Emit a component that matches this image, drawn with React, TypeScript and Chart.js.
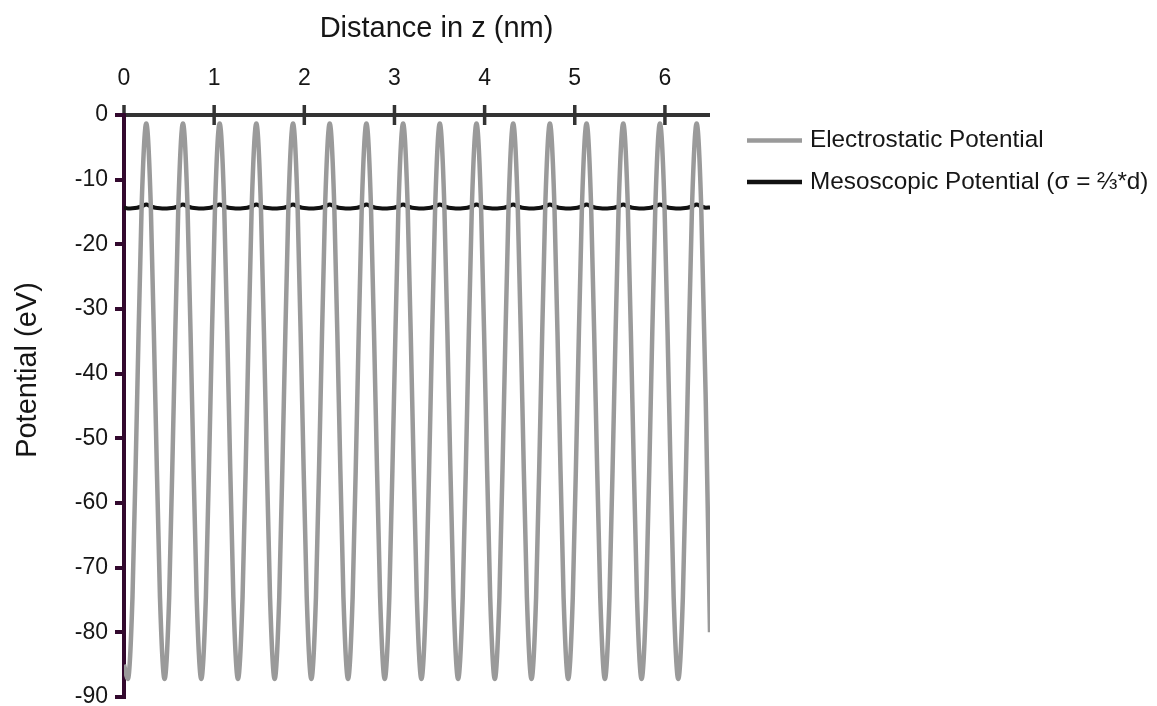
import React, { useEffect, useRef } from "react";
import { Chart, registerables } from "chart.js";

Chart.register(...registerables);

// Distance in z (nm) sample positions
const zPositions = [
  0,
  0.043, 0.094, 0.145, 0.196, 0.247, 0.297, 0.348, 0.399,
  0.45, 0.501, 0.552, 0.603, 0.654, 0.704, 0.755, 0.806,
  0.857, 0.908, 0.959, 1.01, 1.061, 1.111, 1.162, 1.213,
  1.264, 1.315, 1.366, 1.417, 1.468, 1.518, 1.569, 1.62,
  1.671, 1.722, 1.773, 1.824, 1.875, 1.925, 1.976, 2.027,
  2.078, 2.129, 2.18, 2.231, 2.282, 2.332, 2.383, 2.434,
  2.485, 2.536, 2.587, 2.638, 2.689, 2.739, 2.79, 2.841,
  2.892, 2.943, 2.994, 3.045, 3.096, 3.146, 3.197, 3.248,
  3.299, 3.35, 3.401, 3.452, 3.503, 3.553, 3.604, 3.655,
  3.706, 3.757, 3.808, 3.859, 3.91, 3.96, 4.011, 4.062,
  4.113, 4.164, 4.215, 4.266, 4.317, 4.367, 4.418, 4.469,
  4.52, 4.571, 4.622, 4.673, 4.724, 4.774, 4.825, 4.876,
  4.927, 4.978, 5.029, 5.08, 5.131, 5.181, 5.232, 5.283,
  5.334, 5.385, 5.436, 5.487, 5.538, 5.588, 5.639, 5.69,
  5.741, 5.792, 5.843, 5.894, 5.945, 5.995, 6.046, 6.097,
  6.148, 6.199, 6.25, 6.301, 6.352, 6.402, 6.453,
  6.5,
];

// Electrostatic potential (eV)
const electrostatic = [
  -85,
  -87.2, -74.6, -44.3, -13.9, -1.3, -13.9, -44.3, -74.6,
  -87.2, -74.6, -44.3, -13.9, -1.3, -13.9, -44.3, -74.6,
  -87.2, -74.6, -44.3, -13.9, -1.3, -13.9, -44.3, -74.6,
  -87.2, -74.6, -44.3, -13.9, -1.3, -13.9, -44.3, -74.6,
  -87.2, -74.6, -44.3, -13.9, -1.3, -13.9, -44.3, -74.6,
  -87.2, -74.6, -44.3, -13.9, -1.3, -13.9, -44.3, -74.6,
  -87.2, -74.6, -44.3, -13.9, -1.3, -13.9, -44.3, -74.6,
  -87.2, -74.6, -44.3, -13.9, -1.3, -13.9, -44.3, -74.6,
  -87.2, -74.6, -44.3, -13.9, -1.3, -13.9, -44.3, -74.6,
  -87.2, -74.6, -44.3, -13.9, -1.3, -13.9, -44.3, -74.6,
  -87.2, -74.6, -44.3, -13.9, -1.3, -13.9, -44.3, -74.6,
  -87.2, -74.6, -44.3, -13.9, -1.3, -13.9, -44.3, -74.6,
  -87.2, -74.6, -44.3, -13.9, -1.3, -13.9, -44.3, -74.6,
  -87.2, -74.6, -44.3, -13.9, -1.3, -13.9, -44.3, -74.6,
  -87.2, -74.6, -44.3, -13.9, -1.3, -13.9, -44.3, -74.6,
  -87.2, -74.6, -44.3, -13.9, -1.3, -13.9, -44.3,
  -80,
];

// Mesoscopic potential (eV)
const mesoscopic = [
  -14.3,
  -14.45, -14.42, -14.33, -14.15, -13.85, -14.15, -14.33, -14.42,
  -14.45, -14.42, -14.33, -14.15, -13.85, -14.15, -14.33, -14.42,
  -14.45, -14.42, -14.33, -14.15, -13.85, -14.15, -14.33, -14.42,
  -14.45, -14.42, -14.33, -14.15, -13.85, -14.15, -14.33, -14.42,
  -14.45, -14.42, -14.33, -14.15, -13.85, -14.15, -14.33, -14.42,
  -14.45, -14.42, -14.33, -14.15, -13.85, -14.15, -14.33, -14.42,
  -14.45, -14.42, -14.33, -14.15, -13.85, -14.15, -14.33, -14.42,
  -14.45, -14.42, -14.33, -14.15, -13.85, -14.15, -14.33, -14.42,
  -14.45, -14.42, -14.33, -14.15, -13.85, -14.15, -14.33, -14.42,
  -14.45, -14.42, -14.33, -14.15, -13.85, -14.15, -14.33, -14.42,
  -14.45, -14.42, -14.33, -14.15, -13.85, -14.15, -14.33, -14.42,
  -14.45, -14.42, -14.33, -14.15, -13.85, -14.15, -14.33, -14.42,
  -14.45, -14.42, -14.33, -14.15, -13.85, -14.15, -14.33, -14.42,
  -14.45, -14.42, -14.33, -14.15, -13.85, -14.15, -14.33, -14.42,
  -14.45, -14.42, -14.33, -14.15, -13.85, -14.15, -14.33, -14.42,
  -14.45, -14.42, -14.33, -14.15, -13.85, -14.15, -14.33,
  -14.3,
];

const xTickValues = [0, 1, 2, 3, 4, 5, 6];
const yTickValues = [0, -10, -20, -30, -40, -50, -60, -70, -80, -90];
const seriesLabels = ["Electrostatic Potential", "Mesoscopic Potential (σ = ⅔*d)"];
const xTitle = "Distance in z (nm)";
const yTitle = "Potential (eV)";

const FONT = "'Liberation Sans', Arial, Helvetica, sans-serif";
const TEXT = "#161616";
const GRAY = "#9a9a9a";
const BLACK = "#111111";
const X_AXIS = "#333333";
const Y_AXIS = "#33092e";

export default function App() {
  const ref = useRef<HTMLCanvasElement | null>(null);

  useEffect(() => {
    const canvas = ref.current;
    if (!canvas) return;

    const decor = {
      id: "decor",
      beforeDraw(chart: any) {
        const { ctx, chartArea } = chart;
        const xs = chart.scales.x;
        ctx.save();
        ctx.fillStyle = "#ffffff";
        ctx.fillRect(0, 0, chart.width, chart.height);
        // top x axis line up to the end of the data
        const xEnd = xs.getPixelForValue(zPositions[zPositions.length - 1]);
        const xStart = xs.getPixelForValue(0);
        ctx.strokeStyle = X_AXIS;
        ctx.lineWidth = 4;
        ctx.lineCap = "butt";
        ctx.beginPath();
        ctx.moveTo(xStart, chartArea.top);
        ctx.lineTo(xEnd, chartArea.top);
        ctx.stroke();
        // crossing tick marks
        ctx.lineWidth = 3.5;
        for (const v of xTickValues) {
          const px = xs.getPixelForValue(v);
          ctx.beginPath();
          ctx.moveTo(px, chartArea.top - 10);
          ctx.lineTo(px, chartArea.top + 10);
          ctx.stroke();
        }
        ctx.restore();
      },
      afterDraw(chart: any) {
        const { ctx } = chart;
        ctx.save();
        // axis titles
        ctx.fillStyle = TEXT;
        ctx.font = `29px ${FONT}`;
        ctx.textAlign = "center";
        ctx.textBaseline = "middle";
        ctx.fillText(xTitle, 436.5, 29);
        ctx.save();
        ctx.translate(27.5, 370);
        ctx.rotate(-Math.PI / 2);
        ctx.fillText(yTitle, 0, 0);
        ctx.restore();
        // legend
        const legendLeft = 747;
        const sampleW = 55;
        const legendTop = 140.5;
        const legendGap = 41.5;
        chart.data.datasets.forEach((ds: any, i: number) => {
          const y = legendTop + i * legendGap;
          ctx.strokeStyle = ds.borderColor;
          ctx.lineWidth = 4.5;
          ctx.lineCap = "butt";
          ctx.beginPath();
          ctx.moveTo(legendLeft, y);
          ctx.lineTo(legendLeft + sampleW, y);
          ctx.stroke();
          ctx.fillStyle = TEXT;
          ctx.font = `24.3px ${FONT}`;
          ctx.textAlign = "left";
          ctx.textBaseline = "middle";
          ctx.fillText(ds.label, legendLeft + sampleW + 8, y);
        });
        ctx.restore();
      },
    };

    const chart = new Chart(canvas, {
      type: "line",
      data: {
        datasets: [
          {
            label: seriesLabels[0],
            data: zPositions.map((x, i) => ({ x, y: electrostatic[i] })),
            borderColor: GRAY,
            backgroundColor: GRAY,
            borderWidth: 4.5,
            pointRadius: 0,
            fill: false,
            cubicInterpolationMode: "monotone",
          },
          {
            label: seriesLabels[1],
            data: zPositions.map((x, i) => ({ x, y: mesoscopic[i] })),
            borderColor: BLACK,
            backgroundColor: BLACK,
            borderWidth: 4,
            pointRadius: 0,
            fill: false,
            cubicInterpolationMode: "monotone",
          },
        ],
      },
      options: {
        responsive: false,
        animation: false,
        events: [],
        layout: { padding: { left: 0, top: 0, right: 1157 - 710, bottom: 9 } },
        plugins: {
          legend: { display: false },
          tooltip: { enabled: false },
          title: { display: false },
        },
        scales: {
          x: {
            type: "linear",
            position: "top",
            min: 0,
            max: 6.5,
            afterBuildTicks: (s: any) => {
              s.ticks = xTickValues.map((v) => ({ value: v }));
            },
            afterFit: (s: any) => {
              s.height = 115;
              s.paddingLeft = 0;
              s.paddingRight = 0;
            },
            grid: { display: false, drawTicks: false, tickLength: 0 },
            border: { display: false },
            ticks: {
              padding: 23,
              color: TEXT,
              font: { family: FONT, size: 23 },
              maxRotation: 0,
              autoSkip: false,
            },
            title: { display: false },
          },
          y: {
            type: "linear",
            position: "left",
            min: -90,
            max: 0,
            afterBuildTicks: (s: any) => {
              s.ticks = yTickValues.map((v) => ({ value: v }));
            },
            afterFit: (s: any) => {
              s.width = 124;
              s.paddingTop = 0;
              s.paddingBottom = 0;
            },
            grid: {
              drawOnChartArea: false,
              drawTicks: true,
              tickLength: 9,
              color: Y_AXIS,
              lineWidth: 4,
            },
            border: { display: true, color: Y_AXIS, width: 4 },
            ticks: {
              padding: 7,
              color: TEXT,
              font: { family: FONT, size: 23 },
              autoSkip: false,
            },
            title: { display: false },
          },
        },
      },
      plugins: [decor],
    } as any);

    return () => chart.destroy();
  }, []);

  return (
    <div
      style={{
        position: "absolute",
        left: 0,
        top: 0,
        width: 1157,
        height: 706,
        overflow: "hidden",
        background: "#ffffff",
      }}
    >
      <canvas ref={ref} width={1157} height={706} style={{ display: "block" }} />
    </div>
  );
}
